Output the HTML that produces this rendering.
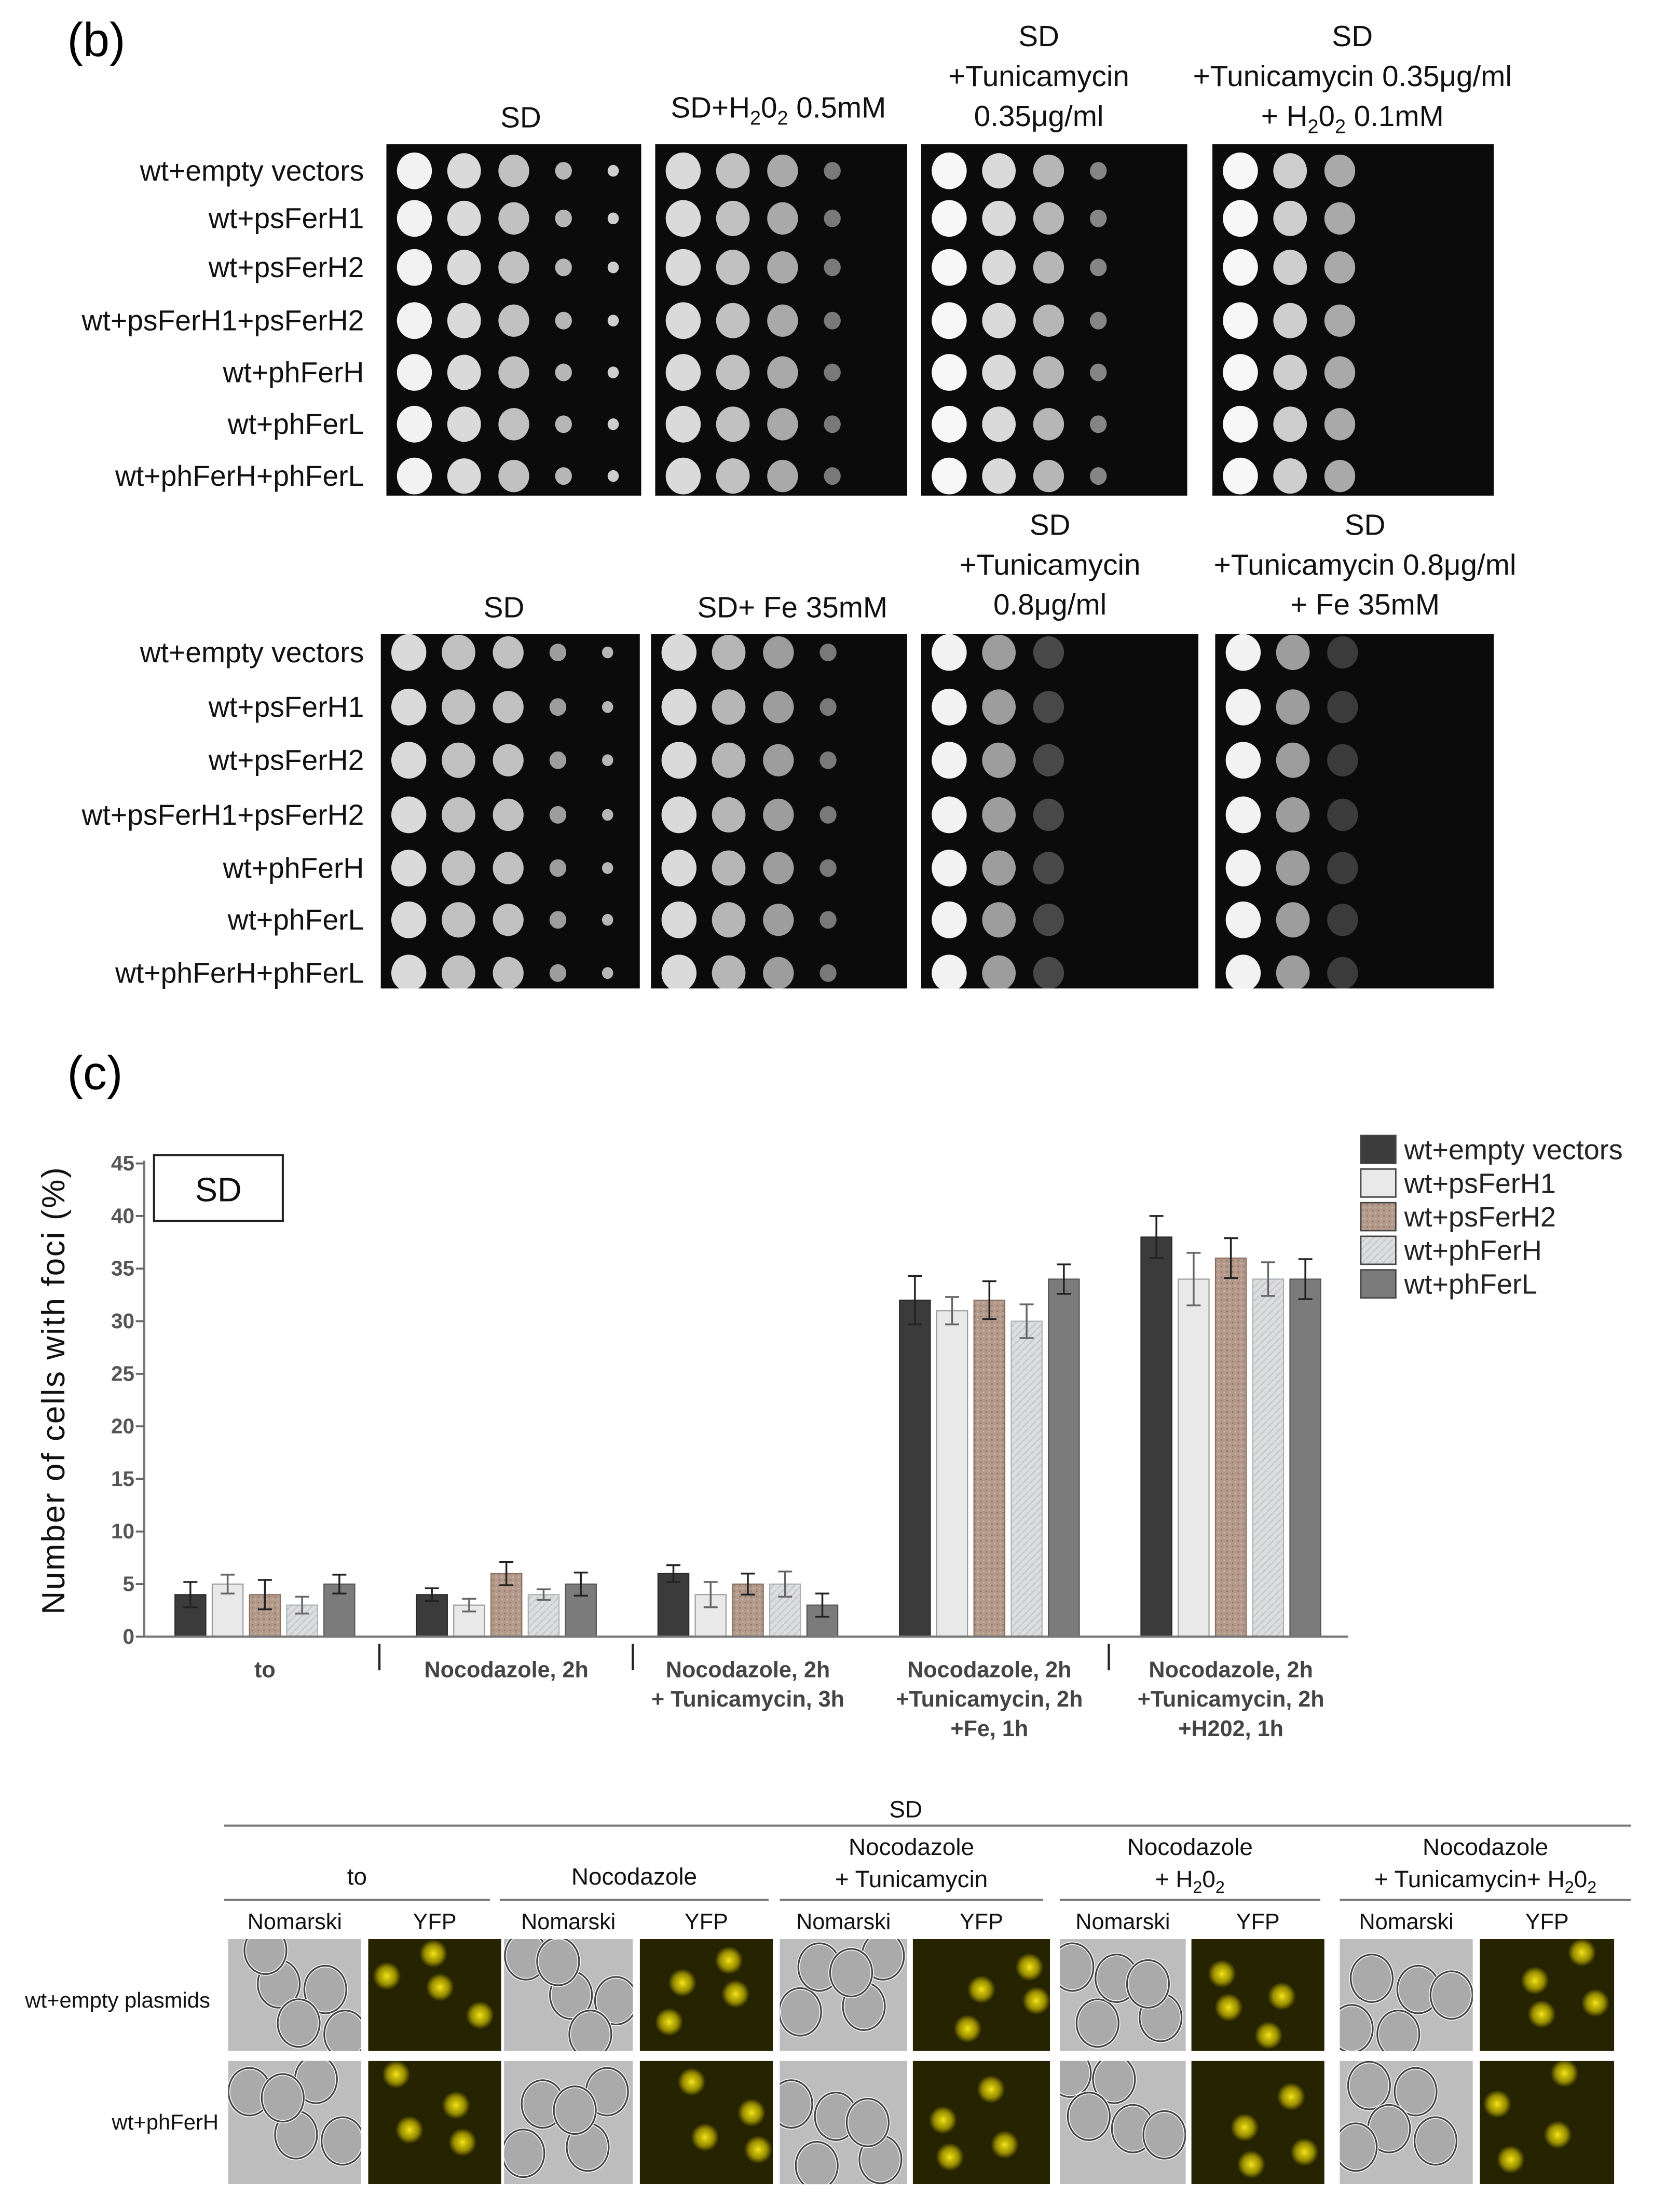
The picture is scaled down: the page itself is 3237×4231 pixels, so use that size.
<!DOCTYPE html>
<html><head><meta charset="utf-8"><style>
html,body{margin:0;padding:0;background:#fff;}
svg{display:block;font-family:"Liberation Sans",sans-serif;}
</style></head><body>
<svg id="fig" width="3237" height="4231" viewBox="0 0 1200 1568.5" xmlns="http://www.w3.org/2000/svg">
<defs>
<pattern id="pH2" width="4" height="4" patternUnits="userSpaceOnUse"><rect width="4" height="4" fill="#b39a8b"/><rect width="1" height="1" fill="#8c7465"/><rect x="2" y="2" width="1" height="1" fill="#cdb8aa"/></pattern>
<pattern id="pFH" width="5" height="5" patternUnits="userSpaceOnUse"><rect width="5" height="5" fill="#dedede"/><path d="M0 5 L5 0" stroke="#c4c8cc" stroke-width="1"/></pattern>
<radialGradient id="yb"><stop offset="0" stop-color="#f4e41a"/><stop offset="0.6" stop-color="#cfc000" stop-opacity="0.7"/><stop offset="1" stop-color="#cfc000" stop-opacity="0"/></radialGradient>
</defs>

<text x="48" y="40" font-size="34">(b)</text>
<g id="spots"></g>

<text x="48" y="778" font-size="34">(c)</text>
<g id="chart"></g>

<g id="micro"></g>
</svg>
<script>
var NS="http://www.w3.org/2000/svg";
function mk(tag,attrs,parent,txt){var e=document.createElementNS(NS,tag);for(var k in attrs)e.setAttribute(k,attrs[k]);if(txt!==undefined)e.textContent=txt;parent.appendChild(e);return e;}

/* ---------- chart data ---------- */
var categories=["to","Nocodazole, 2h","Nocodazole, 2h|+ Tunicamycin, 3h","Nocodazole, 2h|+Tunicamycin, 2h|+Fe, 1h","Nocodazole, 2h|+Tunicamycin, 2h|+H202, 1h"];
var seriesNames=["wt+empty vectors","wt+psFerH1","wt+psFerH2","wt+phFerH","wt+phFerL"];
var emptyVals=[4,4,6,32,38];
var psFerH1Vals=[5,3,4,31,34];
var psFerH2Vals=[4,6,5,32,36];
var phFerHVals=[3,4,5,30,34];
var phFerLVals=[5,5,3,34,34];
var emptyErr=[1.2,0.6,0.8,2.3,2.0];
var psFerH1Err=[0.9,0.6,1.2,1.3,2.5];
var psFerH2Err=[1.4,1.1,1.0,1.8,1.9];
var phFerHErr=[0.8,0.5,1.2,1.6,1.6];
var phFerLErr=[0.9,1.1,1.1,1.4,1.9];
var yTicks=[0,5,10,15,20,25,30,35,40,45];

var chart=document.getElementById('chart');
var Y0=1169,Y45=831,XA=103,XE=963;
function yS(v){return Y0-(v/45)*(Y0-Y45);}
function xBar(g,s){return 136+g*172.5+s*26.6;}
var fills=["#3b3b3b","#e9e9e9","url(#pH2)","url(#pFH)","#7b7b7b"];
var strokes=["#2a2a2a","#9a9a9a","#8a7060","#aab0b6","#555"];
var vals=[emptyVals,psFerH1Vals,psFerH2Vals,phFerHVals,phFerLVals];
var errs=[emptyErr,psFerH1Err,psFerH2Err,phFerHErr,phFerLErr];
var bw=22;
for(var g=0;g<categories.length;g++){
 for(var s=0;s<5;s++){
  var v=vals[s][g],e=errs[s][g],cx=xBar(g,s);
  var r=mk('rect',{x:cx-bw/2,y:yS(v),width:bw,height:Y0-yS(v),fill:fills[s],stroke:strokes[s],'stroke-width':0.8},chart);
  
  
  var eb=mk('path',{d:'M'+cx+' '+yS(v+e)+'V'+yS(v-e)+'M'+(cx-5)+' '+yS(v+e)+'H'+(cx+5)+'M'+(cx-5)+' '+yS(v-e)+'H'+(cx+5),stroke:s==1||s==3?'#666':'#222','stroke-width':1.3,fill:'none'},chart);
  
  
 }
 var lines=categories[g].split('|');
 var cxg=xBar(g,2);
 for(var i=0;i<lines.length;i++){
  var t=mk('text',{x:cxg,y:1198+i*21,'font-size':16,'font-weight':'bold',fill:'#444','text-anchor':'middle'},chart,lines[i]);
  
  
 }
}
var ax=mk('path',{d:'M'+XA+' '+(Y45-2)+'V'+Y0+'H'+XE,stroke:'#777','stroke-width':1.6,fill:'none'},chart);


[271,452,792].forEach(function(x){var l=mk('line',{x1:x,y1:1174,x2:x,y2:1193,stroke:'#222','stroke-width':1.6},chart);
 
 });
yTicks.forEach(function(v){
 mk('line',{x1:XA-6,y1:yS(v),x2:XA,y2:yS(v),stroke:'#666','stroke-width':1.4},chart);
 var t=mk('text',{x:XA-7,y:yS(v)+5,'font-size':15,'font-weight':'bold',fill:'#555','text-anchor':'end'},chart,String(v));
 
 
});
var yt=mk('text',{x:0,y:0,'font-size':23,fill:'#111','text-anchor':'middle','letter-spacing':'1',transform:'translate(46,993) rotate(-90)'},chart,'Number of cells with foci (%)');


var sb=mk('rect',{x:110,y:825,width:92,height:47,fill:'#fff',stroke:'#222','stroke-width':1.5},chart);


mk('text',{x:156,y:858,'font-size':24,'text-anchor':'middle',fill:'#111'},chart,'SD');
for(var s=0;s<5;s++){
 var yy=821+s*24;
 var sw=mk('rect',{x:972,y:yy-10,width:25,height:20,fill:fills[s],stroke:'#444','stroke-width':1},chart);
 
 
 var lt=mk('text',{x:1003,y:yy+7,'font-size':20,fill:'#222'},chart,seriesNames[s]);
 
 
}

/* ---------- spot assays ---------- */
var sp=document.getElementById('spots');
var rowLabels=["wt+empty  vectors","wt+psFerH1","wt+psFerH2","wt+psFerH1+psFerH2","wt+phFerH","wt+phFerL","wt+phFerH+phFerL"];
var radii=[12.5,12,11,6,4];
function block(plates,rowsY,heads,counts){
 rowsY.forEach(function(y,i){var t=mk('text',{x:260,y:y+7,'font-size':20.5,'text-anchor':'end',fill:'#111'},sp,rowLabels[i]);
  
  });
 plates.forEach(function(p,pi){
  var r=mk('rect',{x:p[0],y:p[1],width:p[2]-p[0],height:p[3]-p[1],fill:'#0b0b0b'},sp);
  
  
  var n=counts[pi];
  rowsY.forEach(function(y,ri){
   for(var k=0;k<n.length;k++){
    var op=n[k]; if(!op) continue;
    var cx=p[0]+20+k*35.5;
    var rad=radii[k];
    mk('ellipse',{cx:cx,cy:y,rx:rad,ry:rad*1.05,fill:'#fff','fill-opacity':op},sp);
   }
  });
 });
 heads.forEach(function(h){h[2].forEach(function(line,i){
  var t=mk('text',{x:h[0],y:h[1]+i*28.5,'font-size':21,'text-anchor':'middle',fill:'#111'},sp);
  t.innerHTML=line;
  
  });});
}
block([[276,103,458,354],[468,103,648,354],[658,103,848,354],[866,103,1067,354]],
 [122,156,191,229,266,303,340],
 [[372,91,["SD"]],[556,84,['SD+H<tspan font-size="14" dy="5">2</tspan><tspan dy="-5">0</tspan><tspan font-size="14" dy="5">2</tspan><tspan dy="-5"> 0.5mM</tspan>']],
  [742,33,["SD","+Tunicamycin","0.35μg/ml"]],[966,33,["SD","+Tunicamycin  0.35μg/ml",'+ H<tspan font-size="14" dy="5">2</tspan><tspan dy="-5">0</tspan><tspan font-size="14" dy="5">2</tspan><tspan dy="-5"> 0.1mM</tspan>']]],
 [[0.95,0.85,0.75,0.7,0.8],[0.85,0.75,0.65,0.45],[0.97,0.85,0.7,0.5],[0.97,0.8,0.65]]);
block([[272,453,457,706],[465,453,648,706],[658,453,856,706],[868,453,1067,706]],
 [466,505,543,582,620,657,695],
 [[360,441,["SD"]],[566,441,["SD+ Fe 35mM"]],[750,382,["SD","+Tunicamycin","0.8μg/ml"]],[975,382,["SD","+Tunicamycin  0.8μg/ml","+ Fe  35mM"]]],
 [[0.85,0.75,0.75,0.6,0.7],[0.85,0.7,0.6,0.45],[0.95,0.6,0.25],[0.95,0.6,0.2]]);

/* ---------- microscopy ---------- */
var mi=document.getElementById('micro');
function txt(x,y,s,size,anchor){var t=mk('text',{x:x,y:y,'font-size':size||17,'text-anchor':anchor||'middle',fill:'#111'},mi);t.innerHTML=s;
 
 return t;}
txt(647,1298,"SD");
mk('line',{x1:160,y1:1304,x2:1165,y2:1304,stroke:'#777','stroke-width':1.5},mi);
var H2='H<tspan font-size="12" dy="4">2</tspan><tspan dy="-4">0</tspan><tspan font-size="12" dy="4">2</tspan>';
var groups=[[160,350,["to"]],[357,549,["Nocodazole"]],[557,745,["Nocodazole","+ Tunicamycin"]],[757,943,["Nocodazole","+ "+H2]],[957,1165,["Nocodazole","+ Tunicamycin+ "+H2]]];
groups.forEach(function(g){
 var cx=(g[0]+g[1])/2;
 if(g[2].length==1) txt(cx,1346,g[2][0]); else {txt(cx,1325,g[2][0]);txt(cx,1348,g[2][1]);}
 mk('line',{x1:g[0],y1:1357,x2:g[1],y2:1357,stroke:'#777','stroke-width':1.5},mi);
});
var cols=[[163,258],[263,358],[360,452],[457,552],[557,648],[652,750],[757,847],[851,946],[957,1052],[1057,1153]];
var rowsM=[[1385,1465],[1472,1560]];
txt(84,1434,"wt+empty plasmids",15.5);
txt(118,1521,"wt+phFerH",15.5);
var cells=[[0.3,0.3],[0.65,0.35],[0.45,0.65],[0.8,0.75],[0.2,0.8]];
var blobs=[[0.35,0.3],[0.65,0.55],[0.3,0.8],[0.75,0.2]];
cols.forEach(function(c,ci){
 txt((c[0]+c[1])/2,1378,ci%2==0?"Nomarski":"YFP",16);
 rowsM.forEach(function(r,ri){
  var w=c[1]-c[0],h=r[1]-r[0];
  var box=mk('svg',{x:c[0],y:r[0],width:w,height:h,overflow:'hidden'},mi);
  
  
  mk('rect',{x:0,y:0,width:w,height:h,fill:ci%2==0?'#bdbdbd':'#262300'},box);
  if(ci%2==0){
   cells.forEach(function(p,k){var px=w*((p[0]+ci*0.07+ri*0.13)%0.85+0.08),py=h*((p[1]+ri*0.2+ci*0.05)%0.8+0.1);
    mk('ellipse',{cx:px,cy:py,rx:15,ry:17,fill:'#aaaaaa',stroke:'#f4f4f4','stroke-width':2.5},box);
    mk('ellipse',{cx:px,cy:py,rx:15,ry:17,fill:'none',stroke:'#444','stroke-width':1.2},box);});
  } else {
   blobs.forEach(function(p,k){var px=w*((p[0]+ci*0.09+ri*0.17)%0.8+0.1),py=h*((p[1]+ri*0.23+ci*0.03)%0.8+0.1);
    mk('circle',{cx:px,cy:py,r:10,fill:'url(#yb)'},box);});
  }
 });
});
</script>
</body></html>
